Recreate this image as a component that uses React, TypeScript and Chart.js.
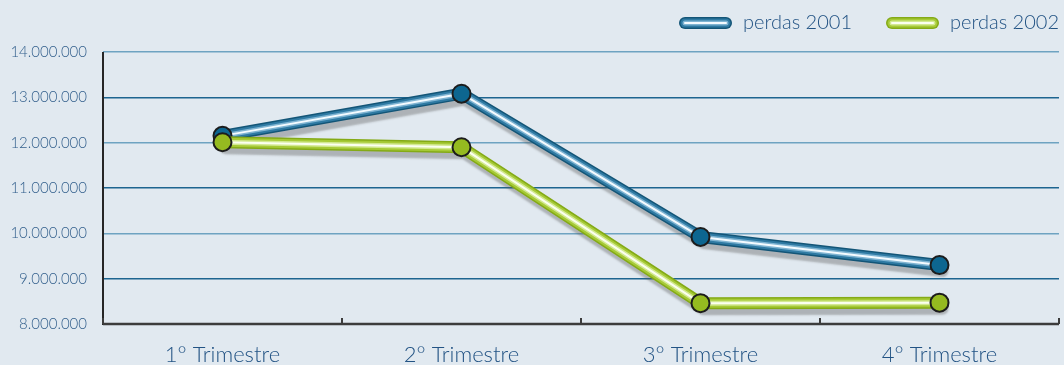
import React, { useEffect, useRef } from "react";
import { Chart, registerables } from "chart.js";

Chart.register(...registerables);

const categories = ["1° Trimestre", "2° Trimestre", "3° Trimestre", "4° Trimestre"];
const perdas2001 = [12150000, 13080000, 9920000, 9300000];
const perdas2002 = [12010000, 11900000, 8460000, 8470000];
const seriesNames = ["perdas 2001", "perdas 2002"];
const yMin = 8000000;
const yMax = 14000000;
const yStep = 1000000;

const blueLayers = ["#135577", "#2f7aa3", "#7fb4d2", "#f4fbff"];
const greenLayers = ["#84aa16", "#a6ca36", "#d3e992", "#fbfff0"];
const layerWidths = [12, 9, 5, 2];

const fmt = (v: number) => String(Math.round(v)).replace(/\B(?=(\d{3})+(?!\d))/g, ".");

function layers(data: number[], colors: string[], pointFill: string, baseOrder: number) {
  return colors.map((c, i) => ({
    label: i === 0 ? "base" : "layer",
    data,
    borderColor: c,
    borderWidth: layerWidths[i],
    pointRadius: i === colors.length - 1 ? 9 : 0,
    pointHoverRadius: i === colors.length - 1 ? 9 : 0,
    pointBackgroundColor: pointFill,
    pointBorderColor: "#1c1c1c",
    pointBorderWidth: 2,
    borderJoinStyle: "round" as const,
    borderCapStyle: "round" as const,
    tension: 0,
    fill: false,
    order: baseOrder - i,
    shadow: i === 0,
  }));
}

const shadowPlugin = {
  id: "tubeShadow",
  beforeDatasetDraw(chart: any, args: any) {
    const ds = chart.data.datasets[args.index];
    if (ds.shadow) {
      const ctx = chart.ctx;
      ctx.save();
      ctx.shadowColor = "rgba(90,90,90,0.38)";
      ctx.shadowBlur = 2;
      ctx.shadowOffsetX = 3;
      ctx.shadowOffsetY = 6;
    }
  },
  afterDatasetDraw(chart: any, args: any) {
    const ds = chart.data.datasets[args.index];
    if (ds.shadow) chart.ctx.restore();
  },
};

const axisPlugin = {
  id: "axesDecor",
  afterDraw(chart: any) {
    const ctx = chart.ctx;
    const { left, right, bottom, top } = chart.chartArea;
    ctx.save();
    ctx.strokeStyle = "#262626";
    ctx.lineWidth = 2;
    ctx.beginPath();
    ctx.moveTo(left, top);
    ctx.lineTo(left, bottom + 1);
    ctx.stroke();
    ctx.strokeStyle = "#3c3c3c";
    ctx.lineWidth = 2.5;
    ctx.beginPath();
    ctx.moveTo(left, bottom);
    ctx.lineTo(right, bottom);
    ctx.stroke();
    ctx.lineWidth = 2;
    const n = categories.length;
    for (let i = 0; i <= n; i++) {
      const x = Math.round(left + ((right - left) * i) / n);
      ctx.beginPath();
      ctx.moveTo(x, bottom);
      ctx.lineTo(x, bottom - 6);
      ctx.stroke();
    }
    const items = [
      { name: seriesNames[0], colors: blueLayers, x: 685 },
      { name: seriesNames[1], colors: greenLayers, x: 892 },
    ];
    const ly = 23;
    items.forEach((it) => {
      it.colors.forEach((c, i) => {
        ctx.strokeStyle = c;
        ctx.lineWidth = layerWidths[i];
        ctx.lineCap = "round";
        ctx.beginPath();
        ctx.moveTo(it.x, ly);
        ctx.lineTo(it.x + 41, ly);
        ctx.stroke();
      });
      ctx.fillStyle = "#225384";
      ctx.font = "300 20px Lato";
      ctx.textBaseline = "middle";
      ctx.textAlign = "left";
      ctx.fillText(it.name, it.x + 58, ly);
    });
    ctx.restore();
  },
};

export default function App() {
  const ref = useRef<HTMLCanvasElement | null>(null);
  useEffect(() => {
    if (!ref.current) return;
    const chart = new Chart(ref.current, {
      type: "line",
      data: {
        labels: categories,
        datasets: [
          ...layers(perdas2001, blueLayers, "#0d6690", 20),
          ...layers(perdas2002, greenLayers, "#95ba20", 10),
        ] as any,
      },
      options: {
        animation: false,
        responsive: true,
        maintainAspectRatio: false,
        events: [],
        layout: { padding: { top: 52, right: 0, left: 0, bottom: 0 } },
        plugins: { legend: { display: false }, tooltip: { enabled: false } },
        scales: {
          x: {
            offset: true,
            grid: { display: false },
            border: { display: false },
            ticks: {
              color: "#225384",
              font: { family: "Lato", size: 22, weight: "300" as any },
              padding: 10,
              maxRotation: 0,
            },
            afterFit: (s: any) => {
              s.height = 41;
            },
          },
          y: {
            min: yMin,
            max: yMax,
            grid: {
              color: (c: any) =>
                Math.round(c.tick.value / yStep) % 2 === 0 ? "#6ea3c1" : "#1d6590",
              lineWidth: 1.5,
              drawTicks: false,
            },
            border: { display: false },
            ticks: {
              stepSize: yStep,
              color: "#325f8c",
              font: { family: "Lato", size: 15, weight: "300" as any },
              padding: 16,
              callback: (v: any) => fmt(Number(v)),
            },
            afterFit: (s: any) => {
              s.width = 103;
            },
          },
        },
      },
      plugins: [shadowPlugin, axisPlugin],
    });
    return () => chart.destroy();
  }, []);
  return (
    <div
      style={{
        position: "fixed",
        left: 0,
        top: 0,
        width: 1064,
        height: 365,
        overflow: "hidden",
        background: "#e1e9f0",
      }}
    >
      <div style={{ position: "absolute", left: 0, top: 0, width: 1070, height: 365 }}>
        <canvas ref={ref} />
      </div>
    </div>
  );
}
